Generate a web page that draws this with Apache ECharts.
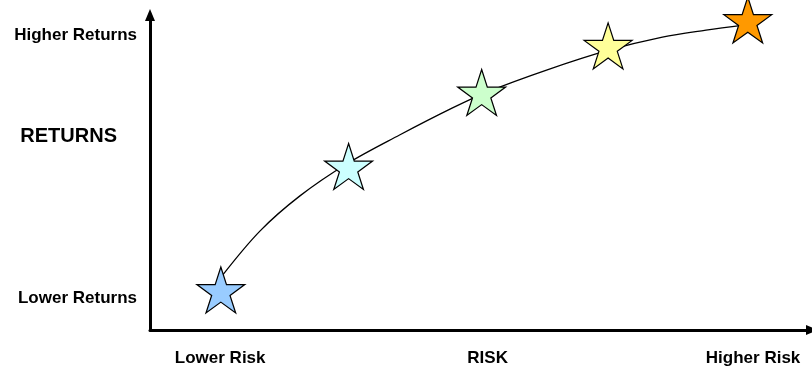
<!DOCTYPE html>
<html>
<head>
<meta charset="utf-8">
<script src="https://cdn.jsdelivr.net/npm/echarts@6/dist/echarts.min.js"></script>
<style>
  html, body { margin: 0; padding: 0; background: #ffffff; }
  #chart { width: 812px; height: 372px; }
</style>
</head>
<body>
<div id="chart"></div>
<script>
// Risk (x) and return (y) positions of each star (0-10 scale)
const riskValues   = [1.07, 3.0, 5.01, 6.92, 9.03];
const returnValues = [1.27, 5.19, 7.54, 9.02, 9.84];
const starColors   = ['#99CCFF', '#CCFFFF', '#CCFFCC', '#FFFF99', '#FF9900'];

// Points the connecting curve passes through
const curveRisk    = [1.10, 1.66, 2.26, 2.97, 3.77, 4.57, 5.10, 5.99, 6.94, 7.74, 8.40, 8.97];
const curveReturn  = [1.75, 3.14, 4.25, 5.27, 6.19, 7.05, 7.56, 8.25, 8.89, 9.30, 9.52, 9.68];

// Tick labels and where they sit on each axis
const xTickValues = [1.06, 5.1, 9.11];
const xTickLabels = ['Lower Risk', 'RISK', 'Higher Risk'];
const yTickValues = [1.02, 6.13, 9.37];
const yTickLabels = ['Lower Returns', 'RETURNS', 'Higher Returns'];

const STAR = 'path://M100 0 L122.45 69.1 L195.1 69.1 L136.33 111.8 L158.8 180.9 L100 138.2 L41.2 180.9 L63.67 111.8 L4.9 69.1 L77.55 69.1 Z';
const FONT = '"Liberation Sans", Arial, sans-serif';

const starPoints = riskValues.map((x, i) => [x, returnValues[i]]);
const curvePoints = curveRisk.map((x, i) => [x, curveReturn[i]]);

const chart = echarts.init(document.getElementById('chart'), null, { renderer: 'canvas' });
chart.setOption({
  animation: false,
  backgroundColor: '#ffffff',
  grid: { left: 150, right: -1, top: 15, bottom: 42 },
  xAxis: {
    type: 'value', min: 0, max: 10,
    splitLine: { show: false },
    axisTick: { show: false },
    axisLine: {
      show: true,
      lineStyle: { color: '#000', width: 3 },
      symbol: ['none', 'triangle'],
      symbolSize: [10, 12]
    },
    axisLabel: {
      customValues: xTickValues,
      margin: 20,
      color: '#000',
      fontFamily: FONT,
      fontWeight: 'bold',
      fontSize: 17,
      formatter: (v) => {
        const i = xTickValues.indexOf(v);
        return i >= 0 ? xTickLabels[i] : '';
      }
    }
  },
  yAxis: {
    type: 'value', min: 0, max: 10,
    splitLine: { show: false },
    axisTick: { show: false },
    axisLine: {
      show: true,
      lineStyle: { color: '#000', width: 3 },
      symbol: ['none', 'triangle'],
      symbolSize: [10, 12]
    },
    axisLabel: {
      customValues: yTickValues,
      margin: 13,
      color: '#000',
      fontFamily: FONT,
      fontWeight: 'bold',
      fontSize: 17,
      formatter: (v) => {
        const i = yTickValues.indexOf(v);
        if (i < 0) return '';
        return i === 1 ? '{big|' + yTickLabels[i] + '}' : yTickLabels[i];
      },
      rich: {
        big: { fontFamily: FONT, fontWeight: 'bold', fontSize: 20, color: '#000', padding: [0, 20, 0, 0] }
      }
    }
  },
  series: [
    {
      type: 'line',
      data: curvePoints,
      smooth: 0.35,
      symbol: 'none',
      lineStyle: { color: '#000', width: 1.3 },
      z: 1
    },
    {
      type: 'scatter',
      data: starPoints.map((p, i) => ({ value: p, itemStyle: { color: starColors[i] } })),
      symbol: STAR,
      symbolSize: [48, 46],
      itemStyle: { borderColor: '#000', borderWidth: 1.2, opacity: 1 },
      z: 3
    }
  ]
});
</script>
</body>
</html>
